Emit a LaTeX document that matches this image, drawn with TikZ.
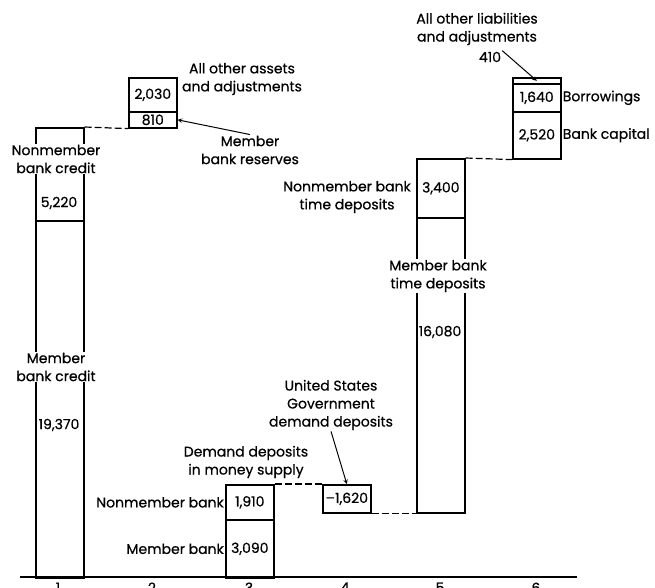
\documentclass[tikz,border=0pt]{standalone}
\usepackage{fontspec}
\setmainfont{Poppins}[FakeBold=0.6]
\tikzset{
	cellbox/.style={draw, line width=1.6pt, minimum width=48pt, inner sep=0pt, anchor=north west},
	gaplabel/.style={fill=white, inner sep=1pt, align=center},
	textlabel/.style={align=center, inner sep=1pt},
	dashlink/.style={dash pattern=on 7pt off 3pt, line width=1.2pt},
}
\begin{document}
\begin{tikzpicture}[x=1pt, y=-1pt, font=\fontsize{14}{18}\selectfont, >=stealth]
		\useasboundingbox (0,0) rectangle (655,587);
		% Column 1: bank credit
		\node[cellbox, minimum height=93pt] (NonmemberCredit) at (35,127) {};
		\node[cellbox, minimum height=357pt] (MemberCredit) at (35,220) {};
		\node[gaplabel] (NonmemberCreditLabel) at (56,159) {Nonmember\\bank credit};
		\node (NonmemberCreditValue) at (59,203) {5,220};
		\node[gaplabel] (MemberCreditLabel) at (56,367) {Member\\bank credit};
		\node[gaplabel] (MemberCreditValue) at (59,425) {19,370};
		
		% Column 2: other assets and reserves
		\node[cellbox, minimum height=34pt] (OtherAssets) at (128,77) {2,030};
		\node[cellbox, minimum height=16pt] (Reserves) at (128,111) {810};
		\node[textlabel] (OtherAssetsLabel) at (242,79) {All other assets\\and adjustments};
		\node[textlabel] (ReservesLabel) at (250,150) {Member\\bank reserves};
		\draw[->, line width=1pt] (ReservesLabel.north) -- (Reserves.east);
		\draw[dashlink] (NonmemberCredit.north east) -- (Reserves.south west);
		
		% Column 3: demand deposits
		\node[cellbox, minimum height=35pt] (NonmemberDemand) at (225,484) {1,910};
		\node[cellbox, minimum height=58pt] (MemberDemand) at (225,519) {3,090};
		\node[textlabel, anchor=east] (NonmemberDemandLabel) at (NonmemberDemand.west) {Nonmember bank};
		\node[textlabel, anchor=east] (MemberDemandLabel) at (MemberDemand.west) {Member bank};
		\node[textlabel] (DemandLabel) at (246,462) {Demand deposits\\in money supply};
		
		% Column 4: government deposits
		\node[cellbox, minimum height=28pt] (GovDeposits) at (322,484) {–1,620};
		\node[textlabel] (GovLabel) at (331,405) {United States\\Government\\demand deposits};
		\draw[->, line width=1pt] (GovLabel.south) -- (GovDeposits.north);
		\draw[dashlink] (NonmemberDemand.north east) -- (GovDeposits.north west);
		
		% Column 5: time deposits
		\node[cellbox, minimum height=59pt] (NonmemberTime) at (416,158) {3,400};
		\node[cellbox, minimum height=295pt] (MemberTime) at (416,217) {};
		\node[textlabel] (NonmemberTimeLabel) at (347,197) {Nonmember bank\\time deposits};
		\node[gaplabel] (MemberTimeLabel) at (438,276) {Member bank\\time deposits};
		\node[gaplabel] (MemberTimeValue) at (440,332) {16,080};
		\draw[dashlink] (GovDeposits.south east) -- (MemberTime.south west);
		
		% Column 6: capital, borrowings, other liabilities
		\node[cellbox, minimum height=47pt] (BankCapital) at (512,111) {2,520};
		\node[cellbox, minimum height=28pt] (Borrowings) at (512,83) {1,640};
		\node[cellbox, minimum height=6pt] (OtherLiab) at (512,77) {};
		\node[textlabel, anchor=west] (BankCapitalLabel) at (BankCapital.east) {Bank capital};
		\node[textlabel, anchor=west] (BorrowingsLabel) at (Borrowings.east) {Borrowings};
		\node[textlabel] (OtherLiabLabel) at (477,29) {All other liabilities\\and adjustments};
		\node[textlabel] (OtherLiabValue) at (490,57) {410};
		\draw[->, line width=1pt] (OtherLiabValue.north east) -- (OtherLiab.center);
		\draw[dashlink] (NonmemberTime.north east) -- (BankCapital.south west);
		
		% Axis
		\coordinate (AxisStart) at (20,577);
		\coordinate (AxisEnd) at (577,577);
		\draw[line width=1.6pt] (AxisStart) -- (AxisEnd);
		\node[anchor=north] (Tick1) at (58,579) {1};
		\node[anchor=north] (Tick2) at (152,579) {2};
		\node[anchor=north] (Tick3) at (249,579) {3};
		\node[anchor=north] (Tick4) at (345,579) {4};
		\node[anchor=north] (Tick5) at (440,579) {5};
		\node[anchor=north] (Tick6) at (536,579) {6};
	\end{tikzpicture}
\end{document}
